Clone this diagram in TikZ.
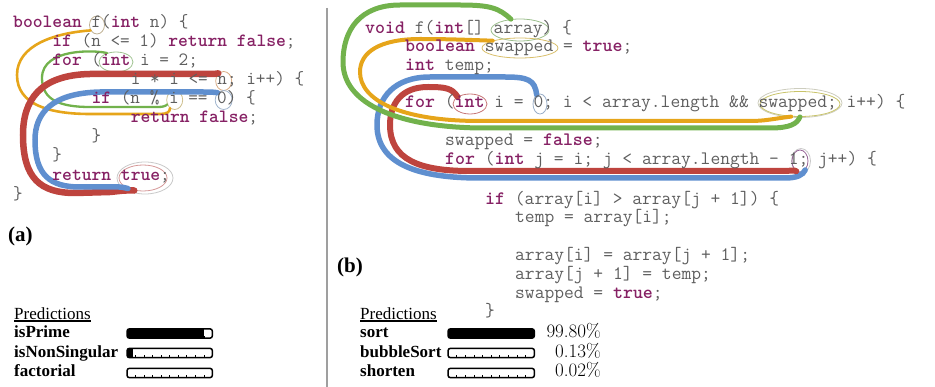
\documentclass[tikz,border=0pt]{standalone}
\usepackage{fontspec}
\newfontfamily\tnr{Liberation Serif}
\usetikzlibrary{calc,shapes.geometric}
\definecolor{cgray}{HTML}{5E5E5E}
\definecolor{kwc}{HTML}{862164}
\definecolor{cred}{HTML}{BE443E}
\definecolor{cblue}{HTML}{5F8FCF}
\definecolor{cgreen}{HTML}{72B24C}
\definecolor{corange}{HTML}{E6A51A}
\newcommand{\kw}[1]{{\bfseries\color{kwc}#1}}
\newcommand{\predbar}[5]{%
  \node[barnode, minimum width=#4pt, anchor=west] (#1) at (#2,#3) {};
  \begin{scope}
    \clip[rounded corners=2.5pt] (#1.south west) rectangle (#1.north east);
    \fill[black] (#1.south west) rectangle ($(#1.north west)!#5!(#1.north east)$);
  \end{scope}
  \foreach \k in {1,...,9}{\draw[line width=0.7pt] ($(#1.south west)!\k/10!(#1.south east)$) -- ++(0,-2.5);}
  \draw[line width=1.5pt, rounded corners=2.5pt] (#1.south west) rectangle (#1.north east);
}
\tikzset{
  codeL/.style={anchor=base west, inner sep=0pt, text=cgray, font=\ttfamily\fontsize{18.7pt}{20pt}\selectfont},
  codeR/.style={anchor=base west, inner sep=0pt, text=cgray, font=\ttfamily\fontsize{19pt}{20pt}\selectfont},
  ringe/.style={ellipse, inner sep=0pt, line width=0.8pt},
  wire/.style={line width=#1, line cap=round},
  barnode/.style={inner sep=0pt, minimum height=9pt},
  labtxt/.style={anchor=base west, inner sep=0pt, font=\tnr\bfseries\fontsize{17pt}{19pt}\selectfont},
  predtxt/.style={anchor=base west, inner sep=0pt, font=\tnr\fontsize{17pt}{19pt}\selectfont},
  pcttxt/.style={anchor=base east, inner sep=0pt, font=\fontsize{19pt}{21pt}\selectfont},
  figlab/.style={anchor=base west, inner sep=0pt, font=\tnr\bfseries\fontsize{21pt}{24pt}\selectfont}
}
\begin{document}
\begin{tikzpicture}[x=1pt,y=-1pt]
\useasboundingbox (0,0) rectangle (935,387);

% ---------- highlight ellipses, left ----------
\node[ringe, draw={rgb,255:red,190;green,175;blue,145}, minimum width=15pt, minimum height=18pt] (ef) at (97,25) {};
\node[ringe, draw={rgb,255:red,160;green,195;blue,145}, minimum width=34pt, minimum height=20pt] (eint) at (116,62) {};
\node[ringe, draw={rgb,255:red,215;green,170;blue,130}, minimum width=16pt, minimum height=19pt] (en) at (223.7,81) {};
\node[ringe, draw={rgb,255:red,205;green,190;blue,140}, minimum width=16pt, minimum height=19pt] (ei) at (174.7,100) {};
\node[ringe, draw={rgb,255:red,160;green,180;blue,205}, minimum width=17pt, minimum height=19pt] (e0) at (223.7,100) {};
\node[ringe, draw={rgb,255:red,200;green,200;blue,200}, minimum width=56pt, minimum height=32pt] (etrueb) at (145,178) {};
\node[ringe, draw={rgb,255:red,212;green,150;blue,150}, minimum width=48pt, minimum height=26pt] (etrue) at (143,178) {};

% ---------- highlight ellipses, right ----------
\node[ringe, draw={rgb,255:red,155;green,190;blue,140}, minimum width=58pt, minimum height=22pt] (earr) at (520,30) {};
\node[ringe, draw={rgb,255:red,216;green,190;blue,106}, minimum width=76pt, minimum height=20pt] (esw1) at (520,48) {};
\node[ringe, draw={rgb,255:red,200;green,120;blue,120}, minimum width=34pt, minimum height=20pt] (eint2) at (470,104) {};
\node[ringe, draw={rgb,255:red,155;green,175;blue,200}, minimum width=14pt, minimum height=20pt] (ezero) at (540,104) {};
\node[ringe, draw={rgb,255:red,205;green,205;blue,190}, minimum width=84pt, minimum height=29pt] (esw2b) at (800,103) {};
\node[ringe, draw={rgb,255:red,200;green,195;blue,105}, minimum width=80pt, minimum height=25pt] (esw2) at (800,104) {};
\node[ringe, draw={rgb,255:red,200;green,200;blue,200}, minimum width=19pt, minimum height=25pt] (eoneb) at (801,161) {};
\node[ringe, draw={rgb,255:red,150;green,100;blue,150}, minimum width=16pt, minimum height=22pt] (eone) at (800,161) {};

% ---------- curves, left ----------
\draw[wire=2.6pt, corange] (ef.220) .. controls (55,33) and (17,45) .. (17,75) .. controls (17,105) and (50,114) .. (90,114) -- (160,114) .. controls (167,114) and (170,112) .. (ei.-120);
\draw[wire=2.3pt, cgreen] (eint.135) .. controls (95,50) and (42,48) .. (42,78) .. controls (42,100) and (60,107) .. (90,107) -- (158,107) .. controls (163,107) and (166,106) .. (ei.-150);
\draw[wire=6.5pt, cred] (en.125) .. controls (216,74) and (210,74) .. (200,74) -- (90,74) .. controls (40,75) and (23,100) .. (23,135) .. controls (23,178) and (40,193) .. (75,193) -- (110,192) .. controls (120,191) and (126,190) .. (etrue.235);
\draw[wire=5.5pt, cblue] (e0.130) .. controls (214,92) and (208,92) .. (200,92) -- (100,92) .. controls (52,93) and (35,113) .. (35,140) .. controls (35,175) and (50,187) .. (80,187) -- (105,187) .. controls (114,187) and (119,186) .. (etrue.215);

% ---------- curves, right ----------
\draw[wire=5.5pt, cblue] (ezero.110) .. controls (535,80) and (528,77) .. (505,77) -- (430,77) .. controls (395,77) and (377,97) .. (377,125) .. controls (377,165) and (420,178) .. (480,178) -- (785,178) .. controls (797,178) and (803,175) .. (eone.-60);
\draw[wire=6pt, cred] (eint2.150) .. controls (452,88) and (445,87) .. (428,87) .. controls (402,87) and (390,103) .. (390,125) .. controls (390,160) and (420,171) .. (470,171) -- (780,171) .. controls (790,171) and (795,170) .. (eone.-110);
\draw[wire=4pt, corange] (esw1.165) .. controls (470,40) and (450,39) .. (420,39) .. controls (380,39) and (360,52) .. (360,72) .. controls (360,100) and (400,121) .. (480,121) -- (750,121) .. controls (765,121) and (772,119) .. (esw2.235);
\draw[wire=5pt, cgreen] (earr.130) .. controls (499,8) and (490,5) .. (460,5) -- (400,5) .. controls (360,5) and (343,30) .. (343,62) .. controls (343,105) and (400,127) .. (480,128) -- (770,128) .. controls (790,128) and (797,124) .. (esw2.south);

% ---------- code, left ----------
\node[codeL] (l1) at (13,28) {\kw{boolean} f(\kw{int} n) \{};
\node[codeL] (l2) at (52.2,47) {\kw{if} (n <= 1) \kw{return} \kw{false};};
\node[codeL] (l3) at (52.2,66) {\kw{for} (\kw{int} i = 2;};
\node[codeL] (l4) at (130.6,85) {i * i <= n; i++) \{};
\node[codeL] (l5) at (91.4,104) {\kw{if} (n \% i == 0) \{};
\node[codeL] (l6) at (130.6,123) {\kw{return} \kw{false};};
\node[codeL] (l7) at (91.4,142) {\}};
\node[codeL] (l8) at (52.2,161) {\}};
\node[codeL] (l9) at (52.2,181) {\kw{return} \kw{true};};
\node[codeL] (l10) at (13,200) {\}};

% ---------- code, right ----------
\node[codeR] (r1) at (365,34) {\kw{void} f(\kw{int}[] array) \{};
\node[codeR] (r2) at (405,52) {\kw{boolean} swapped = \kw{true};};
\node[codeR] (r3) at (405,71) {\kw{int} temp;};
\node[codeR] (r4) at (405,108) {\kw{for} (\kw{int} i = 0; i < array.length \&\& swapped; i++) \{};
\node[codeR] (r5) at (445,146) {swapped = \kw{false};};
\node[codeR] (r6) at (445,165) {\kw{for} (\kw{int} j = i; j < array.length - 1; j++) \{};
\node[codeR] (r7) at (485,205) {\kw{if} (array[i] > array[j + 1]) \{};
\node[codeR] (r8) at (515,223) {temp = array[i];};
\node[codeR] (r9) at (515,261) {array[i] = array[j + 1];};
\node[codeR] (r10) at (515,280) {array[j + 1] = temp;};
\node[codeR] (r11) at (515,299) {swapped = \kw{true};};
\node[codeR] (r12) at (485,317) {\}};

% ---------- divider ----------
\coordinate (dtop) at (327,8);
\coordinate (dbot) at (327,387);
\draw[gray!75, line width=1.3pt] (dtop) -- (dbot);

% ---------- figure labels ----------
\node[figlab] (la) at (8,242) {(a)};
\node[figlab] (lb) at (337,273) {(b)};

% ---------- predictions (a) ----------
\node[predtxt] (pa) at (14,320) {Predictions};
\draw[line width=1.1pt] ([yshift=-0.6pt]pa.south west) -- ([yshift=-0.6pt]pa.south east);
\node[labtxt] (a1) at (14,338) {isPrime};
\node[labtxt] (a2) at (14,357.5) {isNonSingular};
\node[labtxt] (a3) at (14,377) {factorial};
\predbar{ba1}{127}{333.5}{85}{0.9}
\predbar{ba2}{127}{353}{85}{0.07}
\predbar{ba3}{127}{373}{85}{0}

% ---------- predictions (b) ----------
\node[predtxt] (pb) at (360,320) {Predictions};
\draw[line width=1.1pt] ([yshift=-0.6pt]pb.south west) -- ([yshift=-0.6pt]pb.south east);
\node[labtxt] (b1) at (360,338) {sort};
\node[labtxt] (b2) at (360,357.5) {bubbleSort};
\node[labtxt] (b3) at (360,377) {shorten};
\predbar{bb1}{448}{333.5}{86}{1}
\predbar{bb2}{448}{353}{86}{0}
\predbar{bb3}{448}{373}{86}{0}
\node[pcttxt] (pc1) at (601,338) {99.80\%};
\node[pcttxt] (pc2) at (601,357.5) {0.13\%};
\node[pcttxt] (pc3) at (601,377) {0.02\%};
\end{tikzpicture}
\end{document}
